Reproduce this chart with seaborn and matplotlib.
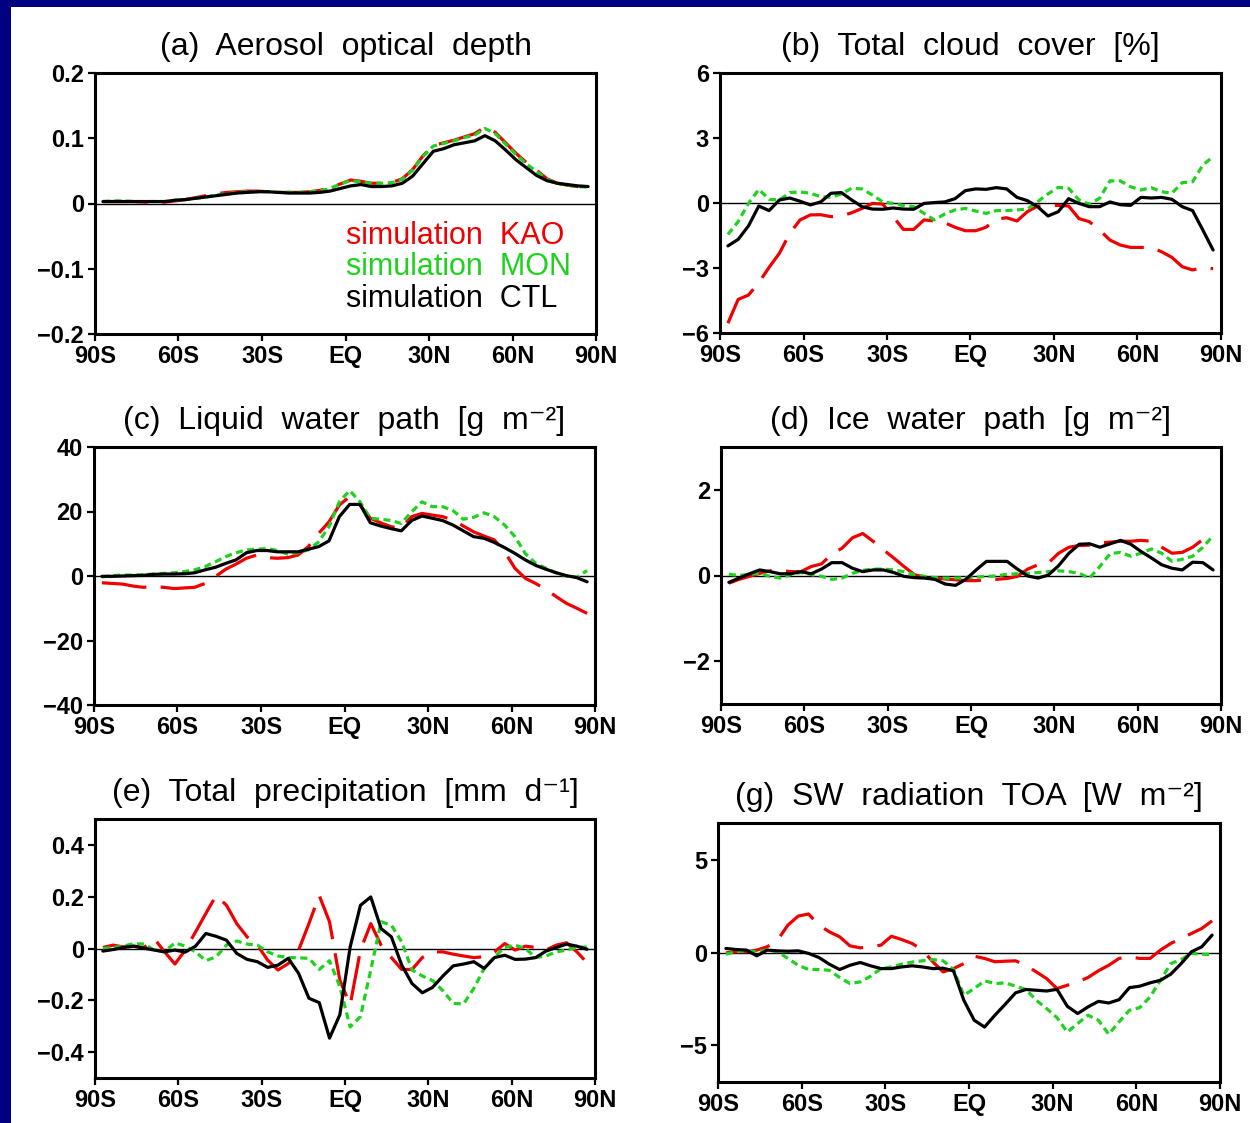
import numpy as np
import pandas as pd
import matplotlib
matplotlib.use("Agg")
import matplotlib.pyplot as plt
from matplotlib.patches import Rectangle
import seaborn as sns

# ---------------- data ----------------
LAT = [-87.16, -83.48, -79.78, -76.07, -72.36, -68.65, -64.94, -61.23, -57.52, -53.81,
       -50.10, -46.39, -42.68, -38.97, -35.26, -31.54, -27.83, -24.12, -20.41, -16.70,
       -12.99, -9.28, -5.57, -1.86, 1.86, 5.57, 9.28, 12.99, 16.70, 20.41,
       24.12, 27.83, 31.54, 35.26, 38.97, 42.68, 46.39, 50.10, 53.81, 57.52,
       61.23, 64.94, 68.65, 72.36, 76.07, 79.78, 83.48, 87.16]

XTICKS = [-90, -60, -30, 0, 30, 60, 90]
XTICKLABELS = ["90S", "60S", "30S", "EQ", "30N", "60N", "90N"]

RUNS = ["KAO", "MON", "CTL"]
LEGEND_TEXT = ["simulation  KAO", "simulation  MON", "simulation  CTL"]

# (a) Aerosol optical depth
AOD_KAO = [0.003, 0.003, 0.003, 0.003, 0.002, 0.002, 0.002, 0.004, 0.006, 0.009, 0.012, 0.015, 0.017, 0.018, 0.019, 0.019,
           0.018, 0.017, 0.017, 0.017, 0.018, 0.020, 0.024, 0.030, 0.036, 0.034, 0.031, 0.031, 0.032, 0.038, 0.052, 0.073,
           0.089, 0.093, 0.097, 0.102, 0.107, 0.117, 0.109, 0.093, 0.077, 0.063, 0.051, 0.038, 0.031, 0.028, 0.026, 0.025]
AOD_MON = [0.003, 0.004, 0.004, 0.003, 0.003, 0.003, 0.003, 0.005, 0.006, 0.008, 0.010, 0.013, 0.015, 0.017, 0.018, 0.018,
           0.018, 0.017, 0.017, 0.017, 0.018, 0.019, 0.023, 0.030, 0.035, 0.033, 0.031, 0.031, 0.032, 0.037, 0.051, 0.072,
           0.088, 0.092, 0.096, 0.101, 0.105, 0.115, 0.107, 0.091, 0.075, 0.061, 0.049, 0.037, 0.031, 0.028, 0.026, 0.025]
AOD_CTL = [0.003, 0.003, 0.003, 0.003, 0.003, 0.003, 0.003, 0.005, 0.006, 0.008, 0.010, 0.012, 0.014, 0.016, 0.017, 0.018,
           0.018, 0.017, 0.016, 0.016, 0.016, 0.017, 0.019, 0.023, 0.027, 0.029, 0.026, 0.026, 0.027, 0.031, 0.042, 0.061,
           0.080, 0.084, 0.090, 0.093, 0.096, 0.104, 0.096, 0.082, 0.067, 0.055, 0.043, 0.035, 0.031, 0.029, 0.027, 0.026]

# (b) Total cloud cover
TCC_KAO = [-5.55, -4.45, -4.25, -3.68, -2.97, -2.32, -1.40, -0.78, -0.55, -0.54, -0.63, -0.60, -0.45, -0.25, -0.02, -0.05,
           -0.63, -1.22, -1.22, -0.78, -0.83, -0.91, -1.12, -1.28, -1.28, -1.12, -0.75, -0.68, -0.83, -0.40, -0.14, -0.11,
           -0.11, -0.14, -0.72, -0.86, -1.25, -1.71, -1.94, -2.05, -2.05, -2.05, -2.25, -2.51, -2.94, -3.09, -2.98, -3.03]
TCC_MON = [-1.45, -0.86, -0.02, 0.63, 0.17, 0.14, 0.48, 0.51, 0.45, 0.29, 0.26, 0.42, 0.68, 0.65, 0.37, 0.05,
           -0.02, -0.12, -0.17, -0.48, -0.78, -0.51, -0.32, -0.25, -0.37, -0.48, -0.35, -0.35, -0.32, -0.28, 0.06, 0.42,
           0.72, 0.68, 0.14, -0.06, 0.22, 1.02, 1.02, 0.75, 0.60, 0.71, 0.52, 0.45, 0.94, 0.98, 1.75, 2.14]
TCC_CTL = [-1.98, -1.68, -1.06, -0.14, -0.35, 0.14, 0.23, 0.08, -0.09, 0.05, 0.45, 0.48, 0.14, -0.17, -0.28, -0.29,
           -0.23, -0.28, -0.29, -0.02, 0.02, 0.05, 0.20, 0.57, 0.65, 0.63, 0.71, 0.65, 0.26, 0.11, -0.17, -0.60,
           -0.40, 0.20, -0.02, -0.17, -0.17, 0.05, -0.08, -0.11, 0.26, 0.23, 0.26, 0.17, -0.17, -0.35, -1.25, -2.17]

# (c) Liquid water path
LWP_KAO = [-2.1, -2.3, -2.5, -3.1, -3.5, -3.3, -3.5, -3.9, -3.7, -3.5, -2.3, -0.2, 2.1, 3.7, 5.5, 6.5,
           5.7, 5.5, 5.7, 6.5, 9.1, 13.2, 16.8, 22.0, 24.6, 22.0, 17.9, 16.5, 15.3, 14.8, 18.4, 19.4,
           18.9, 18.4, 17.4, 15.5, 13.7, 12.4, 11.2, 7.5, 2.4, -0.7, -2.3, -4.1, -6.4, -8.5, -10.0, -11.6]
LWP_MON = [-0.3, 0.1, 0.3, 0.3, 0.4, 0.6, 0.8, 1.0, 1.4, 1.9, 2.9, 4.4, 6.0, 7.2, 8.1, 8.3,
           8.5, 7.9, 6.8, 7.2, 8.1, 10.6, 15.3, 23.0, 26.5, 23.0, 17.9, 17.6, 17.2, 16.3, 19.9, 23.0,
           21.5, 21.5, 20.3, 17.6, 18.2, 19.6, 18.4, 15.8, 12.2, 7.0, 3.9, 2.4, 1.0, 0.0, -0.4, 1.7]
LWP_CTL = [-0.1, -0.1, 0.0, 0.1, 0.2, 0.5, 0.6, 0.6, 0.7, 1.0, 1.9, 2.7, 3.9, 5.0, 7.2, 7.9,
           7.9, 7.5, 7.5, 7.5, 8.3, 9.1, 10.9, 18.4, 22.2, 22.2, 16.5, 15.5, 14.7, 14.0, 17.2, 18.6,
           17.9, 17.2, 15.8, 14.0, 12.2, 11.7, 10.4, 8.8, 7.0, 5.0, 3.3, 2.1, 1.0, 0.1, -0.5, -1.8]

# (d) Ice water path
IWP_KAO = [-0.18, -0.09, -0.02, 0.05, 0.11, 0.12, 0.09, 0.09, 0.21, 0.27, 0.50, 0.64, 0.88, 0.98, 0.80, 0.60,
           0.41, 0.21, 0.02, -0.04, -0.06, -0.08, -0.10, -0.12, -0.12, -0.10, -0.09, -0.07, -0.02, 0.15, 0.25, 0.29,
           0.52, 0.66, 0.70, 0.71, 0.76, 0.78, 0.80, 0.80, 0.82, 0.80, 0.66, 0.52, 0.54, 0.66, 0.84, 0.88]
IWP_MON = [0.03, 0.00, 0.03, 0.05, -0.02, -0.06, 0.02, 0.07, 0.02, -0.02, -0.09, -0.06, 0.05, 0.12, 0.15, 0.15,
           0.13, 0.09, 0.02, -0.02, -0.05, -0.06, -0.06, -0.05, -0.04, -0.02, -0.01, 0.03, 0.04, 0.05, 0.07, 0.09,
           0.11, 0.09, 0.05, -0.06, 0.21, 0.51, 0.54, 0.45, 0.52, 0.62, 0.52, 0.33, 0.38, 0.45, 0.66, 0.93]
IWP_CTL = [-0.16, -0.06, 0.04, 0.13, 0.09, 0.04, 0.04, 0.09, 0.04, 0.15, 0.30, 0.30, 0.17, 0.09, 0.13, 0.13,
           0.07, -0.02, -0.05, -0.06, -0.09, -0.20, -0.23, -0.09, 0.13, 0.33, 0.33, 0.33, 0.15, -0.01, -0.06, 0.01,
           0.23, 0.52, 0.73, 0.74, 0.66, 0.74, 0.82, 0.73, 0.56, 0.41, 0.25, 0.17, 0.13, 0.31, 0.30, 0.13]

# (e) Total precipitation
PRE_KAO = [0.004, 0.013, 0.006, 0.009, 0.004, 0.038, -0.013, -0.060, -0.006, 0.064, 0.135, 0.205, 0.167, 0.096, 0.045, 0.013,
           -0.045, -0.083, -0.058, -0.006, 0.096, 0.205, 0.103, -0.122, -0.218, -0.006, 0.096, 0.013, -0.035, -0.081, -0.081, -0.035,
           -0.013, -0.013, -0.022, -0.029, -0.035, -0.032, -0.013, 0.019, -0.006, 0.009, 0.004, -0.006, 0.013, 0.022, -0.013, -0.055]
PRE_MON = [0.000, 0.004, 0.009, 0.019, 0.017, -0.006, -0.013, 0.022, 0.009, -0.013, -0.047, -0.032, 0.013, 0.029, 0.017, 0.013,
           -0.013, -0.029, -0.035, -0.036, -0.038, -0.081, -0.047, -0.147, -0.303, -0.263, -0.083, 0.103, 0.090, 0.026, -0.083, -0.106,
           -0.124, -0.163, -0.212, -0.214, -0.154, -0.077, -0.032, 0.004, 0.013, 0.000, -0.035, -0.029, -0.013, -0.006, 0.004, 0.006]
PRE_CTL = [-0.010, -0.004, 0.004, 0.009, 0.001, -0.006, -0.013, -0.006, -0.014, 0.009, 0.058, 0.047, 0.032, -0.019, -0.042, -0.051,
           -0.073, -0.064, -0.038, -0.096, -0.192, -0.209, -0.346, -0.256, 0.006, 0.167, 0.199, 0.077, 0.045, -0.064, -0.135, -0.171,
           -0.150, -0.106, -0.067, -0.060, -0.051, -0.077, -0.035, -0.026, -0.042, -0.041, -0.035, -0.010, 0.004, 0.017, 0.009, -0.003]

# (g) SW radiation TOA
SW_KAO = [-0.02, 0.04, 0.04, 0.13, 0.31, 0.67, 1.48, 1.97, 2.08, 1.48, 1.12, 0.85, 0.36, 0.25, 0.31, 0.40,
          0.88, 0.70, 0.49, 0.13, -0.50, -1.05, -0.87, -0.60, -0.20, -0.32, -0.50, -0.47, -0.45, -0.69, -1.05, -1.41,
          -1.95, -1.77, -1.59, -1.35, -0.99, -0.69, -0.32, -0.23, -0.32, -0.32, 0.13, 0.49, 0.76, 1.03, 1.30, 1.71]
SW_MON = [-0.09, 0.04, 0.09, 0.04, 0.13, 0.04, -0.32, -0.69, -0.92, -0.92, -0.96, -1.35, -1.68, -1.59, -1.28, -0.87,
          -0.78, -0.63, -0.52, -0.45, -0.38, -0.45, -0.92, -2.31, -1.95, -1.53, -1.68, -1.64, -1.82, -2.00, -2.58, -3.03,
          -3.52, -4.30, -3.84, -3.39, -3.66, -4.42, -3.75, -3.12, -2.98, -2.40, -1.50, -0.60, -0.38, -0.05, -0.09, -0.11]
SW_CTL = [0.22, 0.16, 0.13, -0.18, 0.13, 0.09, 0.07, 0.09, -0.05, -0.27, -0.63, -0.92, -0.69, -0.54, -0.72, -0.87,
          -0.87, -0.78, -0.72, -0.78, -0.87, -0.85, -0.99, -2.58, -3.66, -4.03, -3.39, -2.80, -2.18, -2.00, -2.04, -2.08,
          -1.99, -2.91, -3.30, -2.94, -2.64, -2.73, -2.55, -1.90, -1.82, -1.64, -1.50, -1.17, -0.60, 0.04, 0.31, 0.94]

TITLES = ["(a)  Aerosol  optical  depth", "(b)  Total  cloud  cover  [%]",
          "(c)  Liquid  water  path  [g  m\u207b\u00b2]", "(d)  Ice  water  path  [g  m\u207b\u00b2]",
          "(e)  Total  precipitation  [mm  d\u207b\u00b9]", "(g)  SW  radiation  TOA  [W  m\u207b\u00b2]"]

YLIMS = [(-0.2, 0.2), (-6, 6), (-40, 40), (-3, 3), (-0.5, 0.5), (-7, 7)]
YTICKS = [[-0.2, -0.1, 0, 0.1, 0.2], [-6, -3, 0, 3, 6], [-40, -20, 0, 20, 40],
          [-2, 0, 2], [-0.4, -0.2, 0, 0.2, 0.4], [-5, 0, 5]]
YTICKLABELS = [["\u22120.2", "\u22120.1", "0", "0.1", "0.2"], ["\u22126", "\u22123", "0", "3", "6"],
               ["\u221240", "\u221220", "0", "20", "40"], ["\u22122", "0", "2"],
               ["\u22120.4", "\u22120.2", "0", "0.2", "0.4"], ["\u22125", "0", "5"]]

SERIES = [(AOD_KAO, AOD_MON, AOD_CTL), (TCC_KAO, TCC_MON, TCC_CTL), (LWP_KAO, LWP_MON, LWP_CTL),
          (IWP_KAO, IWP_MON, IWP_CTL), (PRE_KAO, PRE_MON, PRE_CTL), (SW_KAO, SW_MON, SW_CTL)]

# ---------------- style ----------------
sns.set_style("white")
FAM = ["Liberation Sans", "DejaVu Sans"]
plt.rcParams["font.family"] = FAM
plt.rcParams["axes.unicode_minus"] = True
plt.rcParams["text.color"] = "black"

COLORS = {"KAO": "#f00000", "MON": "#1ed21e", "CTL": "#000000"}
DASHES = {"KAO": (14.0, 4.5), "MON": (2.2, 1.4), "CTL": ""}

W, H = 1250, 1123
fig = plt.figure(figsize=(W / 100, H / 100), dpi=100, facecolor="white")

# navy frame strips (top and left)
fig.patches.append(Rectangle((0, 1 - 7 / H), 1, 7 / H, transform=fig.transFigure,
                             facecolor="#000080", edgecolor="none", zorder=0))
fig.patches.append(Rectangle((0, 0), 11 / W, 1, transform=fig.transFigure,
                             facecolor="#000080", edgecolor="none", zorder=0))

# axes pixel boxes: left, right, top, bottom
BOXES = [(95, 596, 73, 334), (720, 1221, 73, 333), (94, 595, 447, 705),
         (721, 1221, 447, 704), (95, 595, 819, 1078), (718, 1220, 823, 1082)]

for k, (l, r, t, b) in enumerate(BOXES):
    ax = fig.add_axes([l / W, (H - b) / H, (r - l) / W, (b - t) / H])
    kao, mon, ctl = SERIES[k]
    df = pd.DataFrame({
        "lat": LAT * 3,
        "val": list(kao) + list(mon) + list(ctl),
        "run": ["KAO"] * len(LAT) + ["MON"] * len(LAT) + ["CTL"] * len(LAT),
    })
    ax.axhline(0, color="black", lw=1.0, zorder=1)
    sns.lineplot(data=df, x="lat", y="val", hue="run", style="run",
                 hue_order=RUNS, style_order=RUNS, palette=COLORS, dashes=DASHES,
                 linewidth=2.3, legend=False, errorbar=None, sort=False, ax=ax)
    ax.set_xlim(-90, 90)
    ax.set_ylim(*YLIMS[k])
    ax.set_xticks(XTICKS)
    ax.set_xticklabels(XTICKLABELS)
    ax.set_yticks(YTICKS[k])
    ax.set_yticklabels(YTICKLABELS[k])
    ax.set_xlabel("")
    ax.set_ylabel("")
    for s in ax.spines.values():
        s.set_visible(True)
        s.set_linewidth(2.2)
        s.set_color("black")
    ax.tick_params(axis="both", direction="out", length=5, width=1.6, color="black",
                   labelcolor="black", labelsize=17, pad=3, bottom=True, left=True)
    for lab in ax.get_xticklabels() + ax.get_yticklabels():
        lab.set_fontweight("bold")
        lab.set_family(FAM)
    ax.annotate(TITLES[k], xy=(0.5, 1.0), xycoords="axes fraction", xytext=(0, 19),
                textcoords="offset points", ha="center", va="center", fontsize=23,
                family=FAM, color="black")
    if k == 0:
        ys = [0.375, 0.255, 0.135]
        for txt, run, yy in zip(LEGEND_TEXT, RUNS, ys):
            ax.text(0.501, yy, txt, transform=ax.transAxes, ha="left", va="center",
                    fontsize=22, color=COLORS[run], family=FAM)

fig.savefig("out.png", dpi=100, facecolor="white")
